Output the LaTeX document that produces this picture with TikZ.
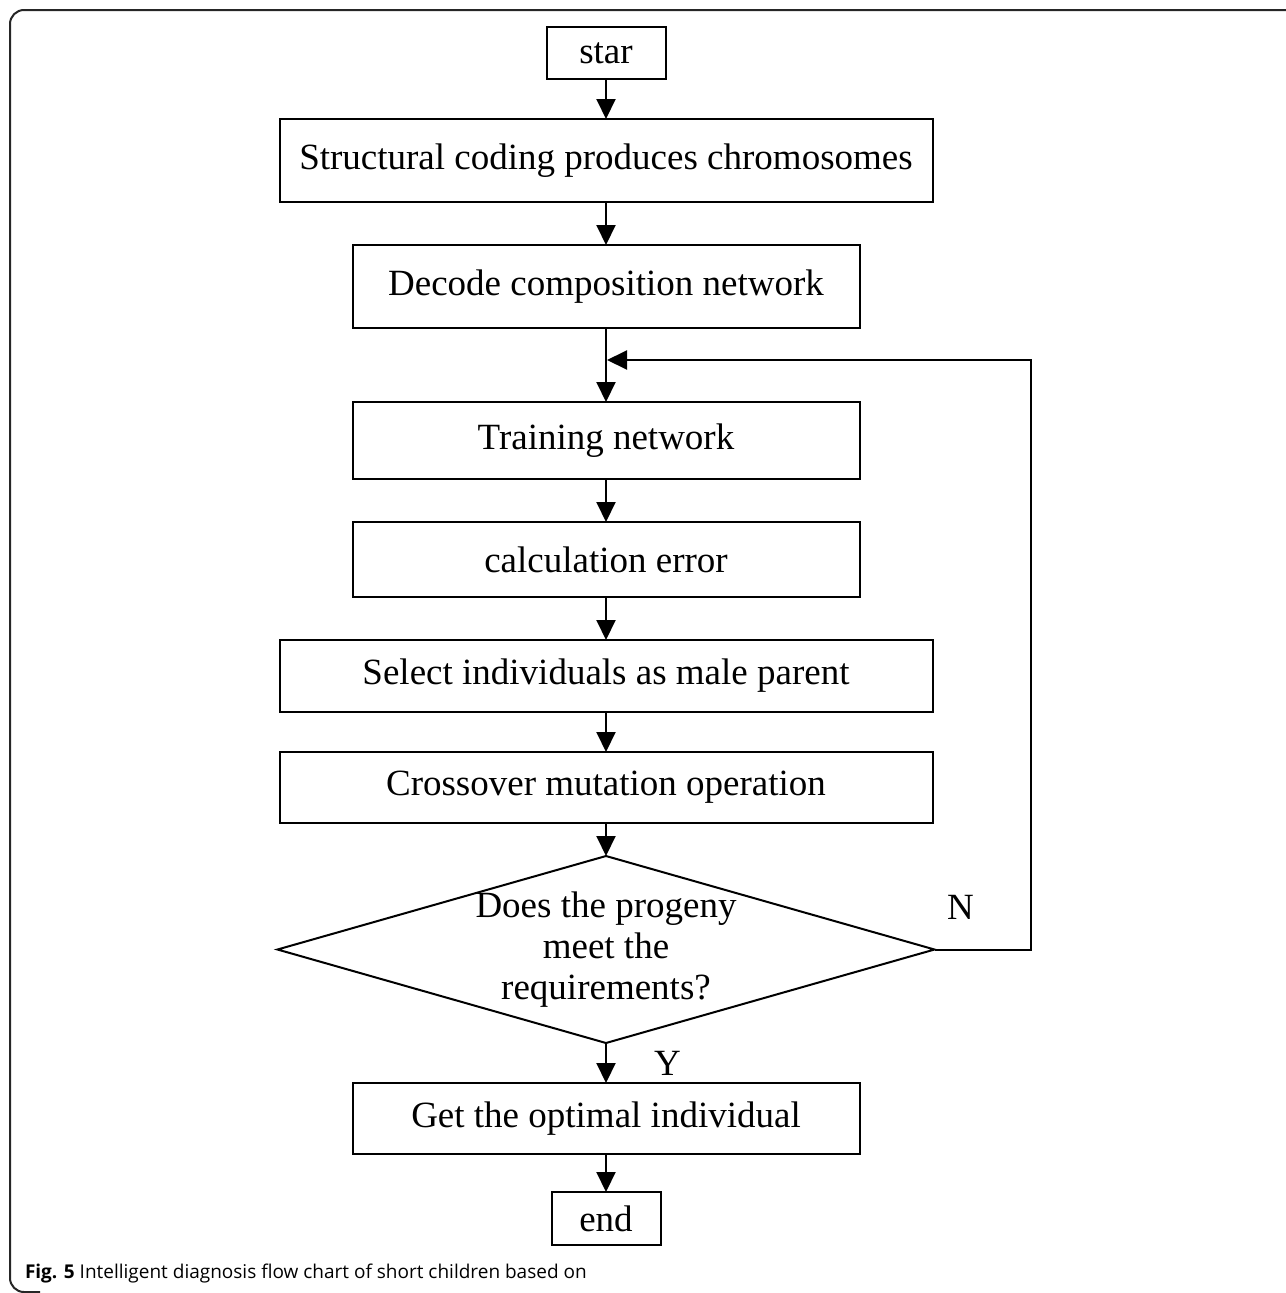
\documentclass[tikz,border=0pt]{standalone}
\usepackage{fontspec}
\setmainfont{Liberation Serif}
\newfontfamily\capfont{Open Sans}
\usetikzlibrary{arrows.meta}
\usetikzlibrary{positioning}
\usetikzlibrary{shapes.geometric}
\usetikzlibrary{calc}

\begin{document}
\begin{tikzpicture}[
    x=1pt, y=1pt,
    >={Triangle[length=20pt,width=19pt]},
    line width=2pt,
    every node/.style={font=\fontsize{37}{41}\selectfont, outer sep=0pt},
    process/.style={rectangle, draw, inner sep=0pt, align=center},
    widebox/.style={process, minimum width=653pt},
    narrowbox/.style={process, minimum width=507pt},
    decision/.style={diamond, draw, inner sep=0pt, minimum width=657pt, minimum height=187pt},
    mark label/.style={inner sep=0pt}
]
\useasboundingbox (0,0) rectangle (1285,-1293);

% Frame
\draw[black!85, rounded corners=14pt] (1290,-10) -- (10,-10) -- (10,-1292) -- (40,-1292);

% Nodes
\node[process, minimum width=119pt, minimum height=52pt] (start) at (606,-53) {star};
\node[widebox, minimum height=83pt, below=40pt of start] (coding) {Structural coding produces chromosomes};
\node[narrowbox, minimum height=83pt, below=43pt of coding] (decode) {Decode composition network};
\node[narrowbox, minimum height=77pt, below=74pt of decode] (train) {Training network};
\node[narrowbox, minimum height=75pt, below=43pt of train] (error) {calculation error};
\node[widebox, minimum height=72pt, below=43pt of error] (select) {Select individuals as male parent};
\node[widebox, minimum height=71pt, below=40pt of select] (cross) {Crossover mutation operation};
\node[decision, below=33pt of cross] (check) {};
\node[align=center, inner sep=0pt] at (check) (checktext) {Does the progeny\\meet the\\requirements?};
\node[narrowbox, minimum height=71pt, below=40pt of check] (optimal) {Get the optimal individual};
\node[process, minimum width=109pt, minimum height=53pt, below=38pt of optimal] (finish) {end};
\coordinate (merge) at ($(decode.south)+(1,-32)$);

% Caption
\node[anchor=base west, inner sep=0pt, font=\capfont\fontsize{19}{23}\selectfont] (caption) at (25,-1278)
    {\textbf{Fig. 5} Intelligent diagnosis flow chart of short children based on};

% Edges
\draw[->] (start) -- (coding);
\draw[->] (coding) -- (decode);
\draw[->] (decode) -- (train);
\draw[->] (train) -- (error);
\draw[->] (error) -- (select);
\draw[->] (select) -- (cross);
\draw[->] (cross) -- (check);
\draw[->] (check.east) -- node[mark label, pos=0.27, above=30pt]{N} ++(96,0) |- (merge);
\draw[->] (check.south) -- node[mark label, midway, right=48pt]{Y} (optimal);
\draw[->] (optimal) -- (finish);

\end{tikzpicture}
\end{document}
